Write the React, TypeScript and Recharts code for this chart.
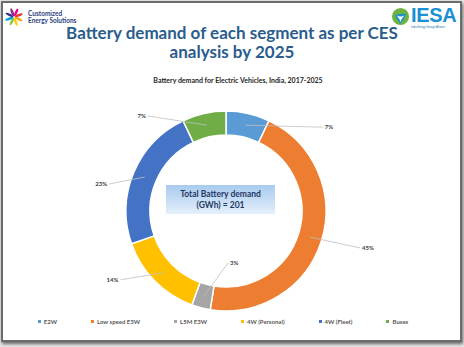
import { Cell, Legend, Pie, PieChart } from "recharts";

const SEGMENTS = ["E2W", "Low speed E3W", "L5M E3W", "4W (Personal)", "4W (Fleet)", "Buses"];
const SHARES = [7, 45, 3, 14, 23, 7];
const TOTAL_GWH = 201;

const COLORS = ["#5B9BD5", "#ED7D31", "#A5A5A5", "#FFC000", "#4472C4", "#70AD47"];
// where each leader line ends, polar around the pie centre (deg, px)
const LEADERS = [
  { angle: 40.9, r: 128 },
  { angle: -15.4, r: 139 },
  { angle: -87.8, r: 52 },
  { angle: 213.1, r: 126 },
  { angle: 167, r: 120 },
  { angle: 129.4, r: 123 },
];

const data = SEGMENTS.map((name, i) => ({ name, value: SHARES[i] }));

const RAD = Math.PI / 180;
const LABEL_FONT = "Lato, 'Open Sans', sans-serif";

function renderLabel(props: any) {
  const { cx, cy, midAngle, innerRadius, outerRadius, percent, index } = props;
  const mid = (innerRadius + outerRadius) / 2;
  const sx = cx + mid * Math.cos(-midAngle * RAD);
  const sy = cy + mid * Math.sin(-midAngle * RAD);
  const lead = LEADERS[index];
  const ex = cx + lead.r * Math.cos(-lead.angle * RAD);
  const ey = cy + lead.r * Math.sin(-lead.angle * RAD);
  const right = ex >= cx;
  return (
    <g>
      <polyline points={`${sx},${sy} ${ex},${ey}`} stroke="#bfbfbf" strokeWidth={0.8} fill="none" />
      <text
        x={right ? ex + 2 : ex - 2}
        y={ey}
        dy={2}
        textAnchor={right ? "start" : "end"}
        fontSize={6}
        fontWeight={700}
        fill="#404040"
        fontFamily={LABEL_FONT}
      >
        {`${Math.round(percent * 100)}%`}
      </text>
    </g>
  );
}

function LegendRow({ payload }: any) {
  const items = [...(payload || [])].sort(
    (a: any, b: any) => SEGMENTS.indexOf(a.value) - SEGMENTS.indexOf(b.value),
  );
  return (
    <div style={{ display: "flex", justifyContent: "center", gap: 34, fontFamily: LABEL_FONT }}>
      {items.map((p: any) => (
        <div key={p.value} style={{ display: "flex", alignItems: "center", gap: 3 }}>
          <span style={{ width: 3, height: 3, background: p.color, display: "inline-block" }} />
          <span style={{ fontSize: 6, fontWeight: 700, color: "#595959" }}>{p.value}</span>
        </div>
      ))}
    </div>
  );
}

function CesLogo() {
  const petals = ["#e63c2f", "#f7a21b", "#ffd200", "#8cc63f", "#00a0dc", "#2e3192", "#92278f", "#ec008c"];
  return (
    <svg width={20} height={20} viewBox="-10 -10 20 20">
      {petals.map((c, i) => (
        <ellipse key={c} cx={5} cy={0} rx={4.2} ry={1.3} fill={c} transform={`rotate(${i * 45 - 20})`} />
      ))}
    </svg>
  );
}

function IesaLogo() {
  return (
    <div style={{ position: "absolute", left: 391, top: 4, display: "flex", alignItems: "flex-start" }}>
      <svg width={19} height={19} viewBox="0 0 20 20" style={{ marginTop: 3 }}>
        <circle cx={10} cy={10} r={9} fill="#6cb33f" />
        <path d="M4 9 Q10 6 16 8 Q13 14 10 18 Q7 14 4 9 Z" fill="#1b8fd2" />
        <path d="M6 9 Q10 11 14 9 Q11 12 10 16 Q9 12 6 9 Z" fill="#ffffff" />
      </svg>
      <div style={{ marginLeft: 1 }}>
        <div style={{ fontFamily: "'Liberation Sans', Arial, sans-serif", fontWeight: 700, fontSize: 20, lineHeight: "22px", color: "#1b8fd2", letterSpacing: -0.3 }}>
          IESA
        </div>
        <div style={{ fontFamily: "'Liberation Sans', sans-serif", fontSize: 2.6, lineHeight: "3px", color: "#1b6fa8", whiteSpace: "nowrap" }}>
          India Energy Storage Alliance
        </div>
      </div>
    </div>
  );
}

export default function App() {
  return (
    <div style={{ position: "absolute", left: 0, top: 0, width: 464, height: 347, background: "#e6e6e6", overflow: "hidden" }}>
      <div
        style={{
          position: "absolute",
          left: 1,
          top: 1,
          width: 457,
          height: 337,
          background: "#ffffff",
          border: "2px solid #6b6b6b",
          boxShadow: "1px 2px 3px rgba(0,0,0,0.55)",
        }}
      />
      <div style={{ position: "absolute", left: 4, top: 7, display: "flex", alignItems: "center" }}>
        <CesLogo />
        <div style={{ marginLeft: 4, fontFamily: LABEL_FONT, fontWeight: 700, fontSize: 6.5, lineHeight: "7px", color: "#2c3e7f" }}>
          <div>Customized</div>
          <div>Energy Solutions</div>
        </div>
      </div>
      <IesaLogo />
      <div
        style={{
          position: "absolute",
          left: 0,
          top: 23,
          width: 464,
          display: "flex",
          flexDirection: "column",
          alignItems: "center",
          fontFamily: LABEL_FONT,
          fontWeight: 700,
          fontSize: 17,
          lineHeight: "19px",
          color: "#2b5d8c",
        }}
      >
        <span>Battery demand of each segment as per CES</span>
        <span>analysis by 2025</span>
      </div>
      <div
        style={{
          position: "absolute",
          left: 6,
          top: 76,
          width: 464,
          display: "flex",
          justifyContent: "center",
          fontFamily: LABEL_FONT,
          fontWeight: 700,
          fontSize: 7,
          color: "#262626",
        }}
      >
        <span>Battery demand for Electric Vehicles, India, 2017-2025</span>
      </div>
      <div style={{ position: "absolute", left: 0, top: 0 }}>
        <PieChart width={464} height={347}>
          <Pie
            data={data}
            dataKey="value"
            nameKey="name"
            cx={221}
            cy={206}
            innerRadius={76}
            outerRadius={100}
            startAngle={90}
            endAngle={-270}
            stroke="#ffffff"
            strokeWidth={1.5}
            label={renderLabel}
            labelLine={false}
            isAnimationActive={false}
          >
            {data.map((d, i) => (
              <Cell key={d.name} fill={COLORS[i]} />
            ))}
          </Pie>
          <Legend
            content={<LegendRow />}
            wrapperStyle={{ left: -9, top: 318, width: 464 }}
          />
        </PieChart>
      </div>
      <div
        style={{
          position: "absolute",
          left: 166,
          top: 185,
          width: 109,
          height: 29,
          background: "linear-gradient(180deg, #a9cbef 0%, #d2e4f7 70%, #e6f0fa 100%)",
          display: "flex",
          flexDirection: "column",
          alignItems: "center",
          justifyContent: "center",
          fontFamily: LABEL_FONT,
          fontWeight: 700,
          fontSize: 8.5,
          lineHeight: "11px",
          color: "#1f3864",
        }}
      >
        <div>Total Battery demand</div>
        <div>{`(GWh) = ${TOTAL_GWH}`}</div>
      </div>
    </div>
  );
}
